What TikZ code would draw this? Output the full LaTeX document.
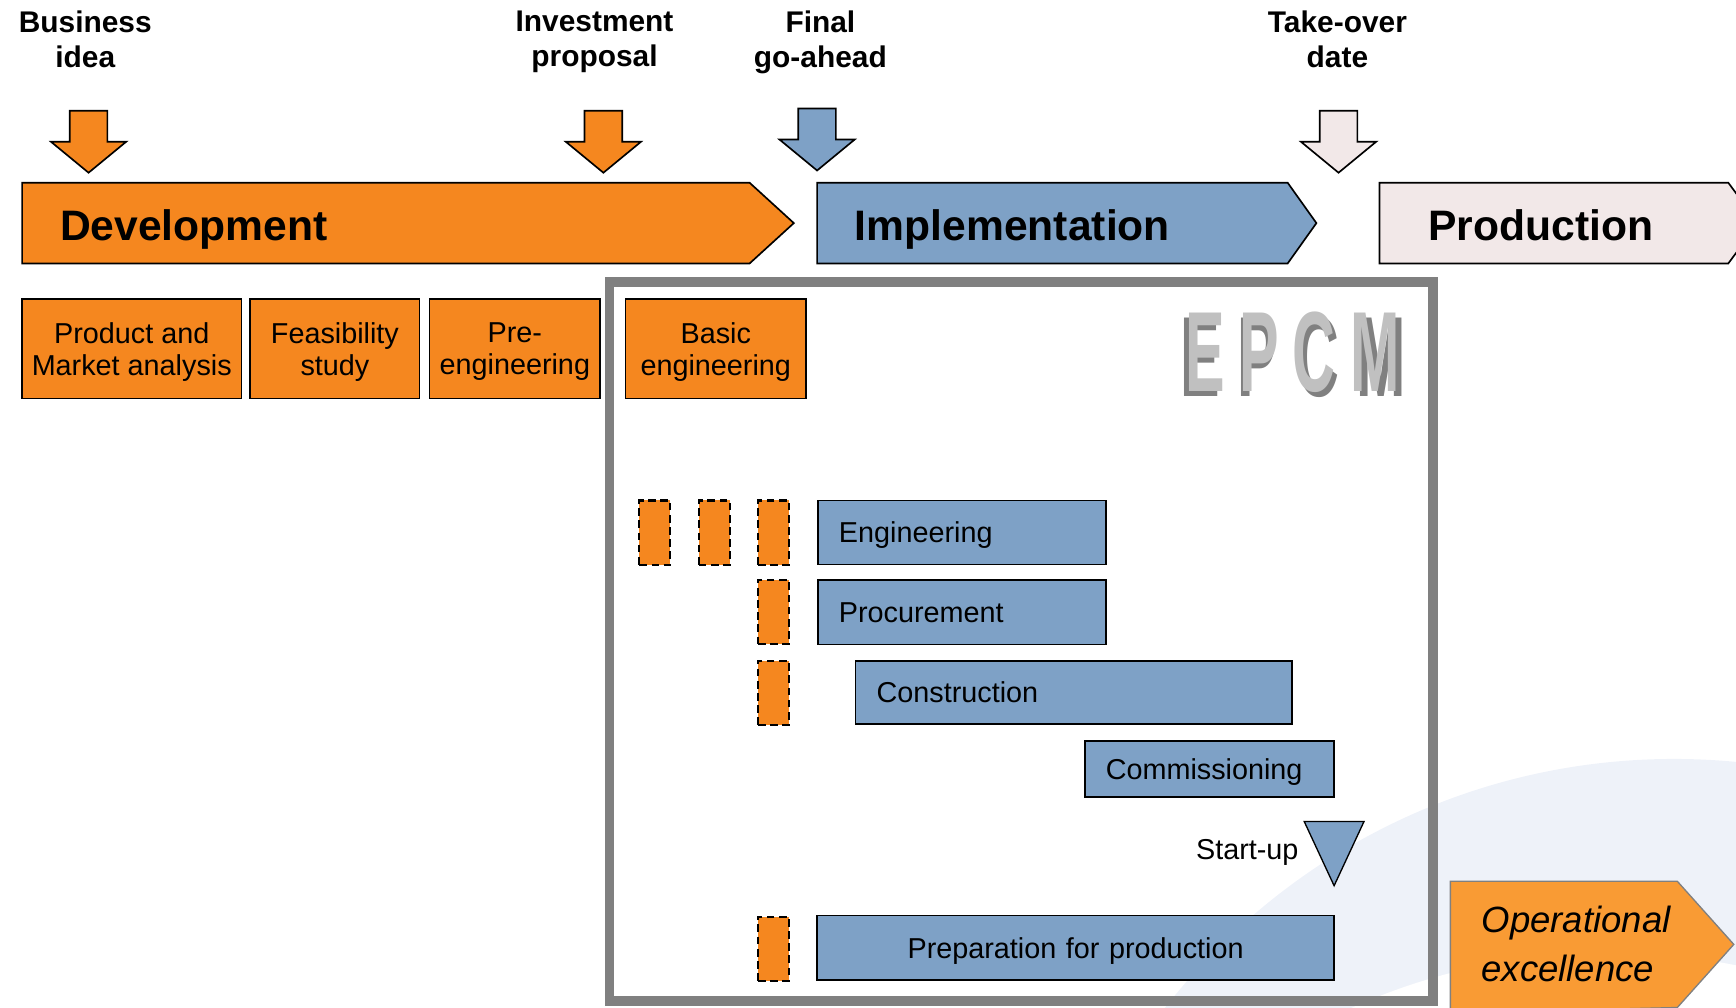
\documentclass[tikz,border=0pt]{standalone}
\usepackage{fontspec}
\setmainfont{Liberation Sans}
\usepackage{xcolor}
\usepackage{graphicx}
\usepackage{tikz}
\definecolor{devorange}{RGB}{245,135,31}
\definecolor{opsorange}{RGB}{249,155,52}
\definecolor{implblue}{RGB}{126,161,198}
\definecolor{prodpink}{RGB}{242,232,232}
\definecolor{framegray}{RGB}{128,128,128}
\definecolor{epcmlight}{RGB}{192,192,192}
\definecolor{swoosh}{RGB}{238,242,249}

\begin{document}
\begin{tikzpicture}[x=1pt,y=-1pt,
            milestone/.style={anchor=north,inner sep=0,align=center,font=\fontsize{27}{31}\selectfont\bfseries},
            phase/.style={anchor=base west,inner sep=0,font=\fontsize{38.5}{42}\selectfont\bfseries},
            stagebox/.style={draw,line width=1.5pt,fill=devorange,minimum height=90,inner sep=0,text depth=0pt,align=center,font=\fontsize{26}{29}\selectfont},
            taskbox/.style={draw,line width=1.5pt,fill=implblue,anchor=west,inner sep=0,inner xsep=19,text depth=0pt,align=left,font=\fontsize{26}{29}\selectfont},
            dashbox/.style={draw,dash pattern=on 7pt off 4pt,line width=2pt,fill=devorange,minimum width=28,minimum height=58},
            letter/.style={anchor=base,inner sep=0,font=\fontsize{103}{103}\selectfont\bfseries}]
            \useasboundingbox (0,0) rectangle (1568,910);
            \clip (0,0) rectangle (1568,910);
            \fill[swoosh] (1512,1268) circle (582.5pt);
            \fill[white] (1454,1430) circle (569.5pt);
            \foreach \x/\y/\c in {80/100/devorange,545/100/devorange,738/98/implblue,1209/100/prodpink}
                \draw[line width=1.5pt,fill=\c] (\x-17,\y) -- (\x+17,\y) -- (\x+17,\y+28) -- (\x+34,\y+28) -- (\x,\y+56) -- (\x-34,\y+28) -- (\x-17,\y+28) -- cycle;
            \node[milestone] (business) at (77,10) {Business\\idea};
            \node[milestone] (investment) at (537,10) {Investment\\proposal};
            \node[milestone] (goahead) at (741,10) {Final\\go-ahead};
            \node[milestone] (takeover) at (1208,10) {Take-over\\date};
            \draw[line width=1.5pt,fill=devorange] (20,165) -- (677,165) -- (717,201.5) -- (677,238) -- (20,238) -- cycle;
            \draw[line width=1.5pt,fill=implblue] (738,165) -- (1163,165) -- (1189,201.5) -- (1163,238) -- (738,238) -- cycle;
            \draw[line width=1.5pt,fill=prodpink] (1246,165) -- (1561,165) -- (1588,201.5) -- (1561,238) -- (1246,238) -- cycle;
            \node[phase] (development) at (54,217) {Development};
            \node[phase] (implementation) at (772,217) {Implementation};
            \node[phase] (production) at (1290,217) {Production};
            \draw[framegray,line width=9pt] (550.5,254.5) rectangle (1294.5,904.5);
            \node[stagebox,minimum width=198] (market) at (119,315) {Product and\\Market analysis};
            \node[stagebox,minimum width=153] (feasibility) at (302.5,315) {Feasibility\\study};
            \node[stagebox,minimum width=154] (preeng) at (465,315) {Pre-\\engineering};
            \node[stagebox,minimum width=163] (basiceng) at (646.5,315) {Basic\\engineering};
            \foreach \l/\x/\dx in {E/1088.5/-8,P/1137.5/-4,C/1187/6,M/1242/10}
                \node[letter] (letter\l) at (\x,354) {\scalebox{.52}[1]{\rlap{\hspace{\dx pt}\raisebox{-4pt}{\textcolor{framegray}{\l}}}\textcolor{epcmlight}{\l}}};
            \foreach \x/\y [count=\i] in {591.5/481,645/481,698.5/481,698.5/553,698.5/626,698.5/857}
                \node[dashbox] (early\i) at (\x,\y) {};
            \node[taskbox,text width=222,minimum height=58] (engineering) at (738,481) {Engineering};
            \node[taskbox,text width=222,minimum height=58] (procurement) at (738,553) {Procurement};
            \node[taskbox,text width=356,minimum height=57] (construction) at (772,625.5) {Construction};
            \node[taskbox,text width=187,minimum height=51] (commissioning) at (979,694.5) {Commissioning};
            \node[taskbox,anchor=center,align=center,text width=429,minimum height=58] (preparation) at (971.5,856) {Preparation for production};
            \draw[line width=1.2pt,fill=implblue] (1178,742) -- (1232,742) -- (1205,800) -- cycle;
            \node[anchor=base east,inner sep=0,font=\fontsize{26}{29}\selectfont] (startup) at (1173,776) {Start-up};
            \draw[framegray,line width=1.2pt,fill=opsorange] (1310,796) -- (1515,796) -- (1566,853) -- (1515,910) -- (1310,915) -- cycle;
            \node[anchor=north west,inner sep=0,align=left,font=\fontsize{33}{44}\selectfont\itshape] (opex) at (1338,818) {Operational\\excellence};
        \end{tikzpicture}
\end{document}
